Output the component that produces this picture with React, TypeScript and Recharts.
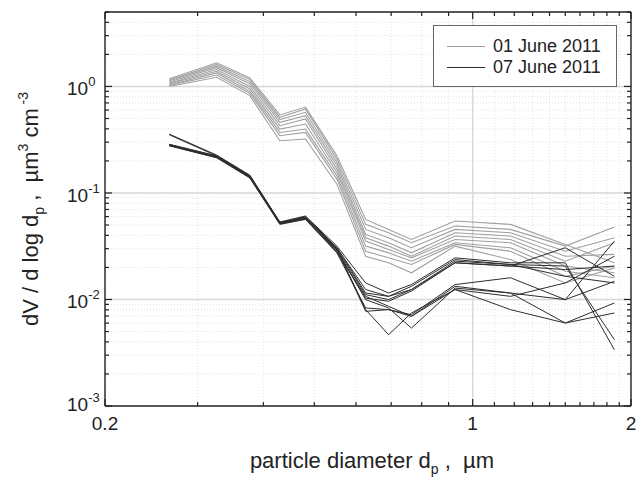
import React from "react";
import {
  LineChart,
  Line,
  XAxis,
  YAxis,
  CartesianGrid,
  ReferenceLine,
  Legend,
  Label,
} from "recharts";

// particle diameter channels, µm
const diameters = [0.265, 0.326, 0.377, 0.43, 0.481, 0.552, 0.626, 0.692, 0.765, 0.926, 1.18, 1.5, 1.86];

// 01 June 2011 size distributions (dV/dlogdp, µm3 cm-3)
const jun01a = [1.18, 1.67, 1.2, 0.54, 0.64, 0.223, 0.0565, 0.0455, 0.0366, 0.0545, 0.0507, 0.0329, 0.0221];
const jun01b = [1.15, 1.61, 1.16, 0.513, 0.614, 0.208, 0.0507, 0.0423, 0.0341, 0.0489, 0.0455, 0.0317, 0.0479];
const jun01c = [1.13, 1.55, 1.11, 0.488, 0.572, 0.193, 0.0455, 0.038, 0.0306, 0.0455, 0.0423, 0.0284, 0.038];
const jun01d = [1.1, 1.5, 1.06, 0.46, 0.532, 0.18, 0.0408, 0.0341, 0.0274, 0.0423, 0.0394, 0.0255, 0.0265];
const jun01e = [1.07, 1.44, 1.0, 0.428, 0.495, 0.167, 0.038, 0.0317, 0.0255, 0.0394, 0.0366, 0.0229, 0.0341];
const jun01f = [1.06, 1.39, 0.948, 0.398, 0.444, 0.156, 0.0353, 0.0295, 0.0246, 0.0366, 0.0341, 0.0206, 0.0178];
const jun01g = [1.03, 1.34, 0.9, 0.37, 0.398, 0.145, 0.0317, 0.0274, 0.0229, 0.0341, 0.0306, 0.0184, 0.016];
const jun01h = [1.02, 1.28, 0.863, 0.345, 0.37, 0.135, 0.0284, 0.0246, 0.0213, 0.0329, 0.0284, 0.0165, 0.0206];
const jun01i = [1.0, 1.22, 0.82, 0.309, 0.321, 0.121, 0.0255, 0.0221, 0.0178, 0.0317, 0.0237, 0.0143, 0.0198];

// 07 June 2011 size distributions
const jun07a = [0.357, 0.227, 0.147, 0.0534, 0.0608, 0.0317, 0.0143, 0.0115, 0.0138, 0.0246, 0.0221, 0.0221, 0.00337];
const jun07b = [0.352, 0.223, 0.145, 0.0526, 0.0599, 0.0306, 0.0124, 0.0107, 0.0133, 0.0237, 0.0213, 0.0206, 0.00419];
const jun07c = [0.283, 0.22, 0.143, 0.0519, 0.0586, 0.0295, 0.0111, 0.00997, 0.0124, 0.0229, 0.0213, 0.0165, 0.0143];
const jun07d = [0.281, 0.217, 0.14, 0.0516, 0.0573, 0.0284, 0.0103, 0.00962, 0.012, 0.0221, 0.0206, 0.0191, 0.0206];
const jun07e = [0.277, 0.214, 0.138, 0.0507, 0.0565, 0.0274, 0.00832, 0.00803, 0.0072, 0.0138, 0.016, 0.00997, 0.0148];
const jun07f = [0.283, 0.219, 0.142, 0.0526, 0.0582, 0.0295, 0.00774, 0.00803, 0.00695, 0.0133, 0.0115, 0.00601, 0.00747];
const jun07g = [0.281, 0.22, 0.144, 0.0523, 0.0586, 0.0299, 0.00803, 0.00467, 0.00747, 0.0124, 0.00803, 0.00601, 0.00928];
const jun07h = [0.286, 0.222, 0.145, 0.053, 0.059, 0.0291, 0.00997, 0.00832, 0.00539, 0.0128, 0.0115, 0.00997, 0.0353];
const jun07i = [0.279, 0.215, 0.1415, 0.0513, 0.0569, 0.0278, 0.0107, 0.00863, 0.00695, 0.0124, 0.0107, 0.0143, 0.0255];
const jun07j = [0.286, 0.223, 0.145, 0.0526, 0.0586, 0.0306, 0.0115, 0.0107, 0.0124, 0.0221, 0.0206, 0.0306, 0.0165];

const xTicks = [0.2, 0.3, 0.4, 0.5, 0.6, 0.7, 0.8, 0.9, 1, 1.1, 1.2, 1.3, 1.4, 1.5, 1.6, 1.7, 1.8, 1.9, 2];
const xLabels = [0.2, 1, 2];
const yTicks = [
  0.001, 0.002, 0.003, 0.004, 0.005, 0.006, 0.007, 0.008, 0.009,
  0.01, 0.02, 0.03, 0.04, 0.05, 0.06, 0.07, 0.08, 0.09,
  0.1, 0.2, 0.3, 0.4, 0.5, 0.6, 0.7, 0.8, 0.9,
  1, 2, 3, 4, 5,
];
const yLabels = [0.001, 0.01, 0.1, 1];

const june01 = [jun01a, jun01b, jun01c, jun01d, jun01e, jun01f, jun01g, jun01h, jun01i];
const june07 = [jun07a, jun07b, jun07c, jun07d, jun07e, jun07f, jun07g, jun07h, jun07i, jun07j];

const data = diameters.map((d, i) => {
  const row: Record<string, number> = { d };
  june01.forEach((s, k) => (row[`a${k}`] = s[i]));
  june07.forEach((s, k) => (row[`b${k}`] = s[i]));
  return row;
});

const FONT = "'Liberation Sans', Arial, sans-serif";
const INK = "#222";
const GRAY_LINE = "#a0a0a0";
const DARK_LINE = "#2e2e2e";

const BottomTick = (props: any) => {
  const { x, y, payload } = props;
  const v = payload.value;
  const major = xLabels.includes(v);
  return (
    <g>
      <line x1={x} x2={x} y1={y} y2={y - (major ? 7 : 4)} stroke={INK} strokeWidth={1.2} />
      {major && (
        <text x={x} y={y + 24} textAnchor="middle" fontSize={19} fontFamily={FONT} fill={INK}>
          {v}
        </text>
      )}
    </g>
  );
};

const TopTick = (props: any) => {
  const { x, y, payload } = props;
  const major = xLabels.includes(payload.value);
  return <line x1={x} x2={x} y1={y} y2={y + (major ? 7 : 4)} stroke={INK} strokeWidth={1.2} />;
};

const LeftTick = (props: any) => {
  const { x, y, payload } = props;
  const v = payload.value;
  const major = yLabels.includes(v);
  const lift = v === 0.001 ? 4 : 0;
  return (
    <g>
      <line x1={x} x2={x + (major ? 7 : 4)} y1={y} y2={y} stroke={INK} strokeWidth={1.2} />
      {major && (
        <text x={x - 38} y={y + 9 - lift} textAnchor="start" fontSize={19} fontFamily={FONT} fill={INK}>
          10
          <tspan dy={-9} fontSize={13}>
            {Math.round(Math.log10(v))}
          </tspan>
        </text>
      )}
    </g>
  );
};

const RightTick = (props: any) => {
  const { x, y, payload } = props;
  const major = yLabels.includes(payload.value);
  return <line x1={x} x2={x - (major ? 7 : 4)} y1={y} y2={y} stroke={INK} strokeWidth={1.2} />;
};

const XTitle = (props: any) => {
  const vb = props.viewBox || { x: 105, y: 406, width: 526, height: 30 };
  return (
    <text x={vb.x + vb.width / 2 + 4} y={vb.y + 62} textAnchor="middle" fontSize={22} fontFamily={FONT} fill={INK}>
      particle diameter d
      <tspan dy={6} fontSize={14}>p</tspan>
      <tspan dy={-6} style={{ whiteSpace: "pre" }}> ,  µm</tspan>
    </text>
  );
};

const YTitle = (props: any) => {
  const vb = props.viewBox || { x: 45, y: 12, width: 60, height: 394 };
  const cx = 38;
  const cy = vb.y + vb.height / 2;
  return (
    <text
      x={cx}
      y={cy}
      transform={`rotate(-90, ${cx}, ${cy})`}
      textAnchor="middle"
      fontSize={22}
      fontFamily={FONT}
      fill={INK}
      style={{ whiteSpace: "pre" }}
    >
      dV / d log d
      <tspan dy={6} fontSize={14}>p</tspan>
      <tspan dy={-6}> ,  µm</tspan>
      <tspan dy={-10} fontSize={14}>3</tspan>
      <tspan dy={10}> cm</tspan>
      <tspan dy={-10} fontSize={14}> -3</tspan>
    </text>
  );
};

const LegendBox = () => (
  <div
    style={{
      position: "relative",
      width: 184,
      height: 62,
      boxSizing: "border-box",
      border: "1px solid #666",
      background: "#fff",
      fontFamily: FONT,
      fontSize: 18,
      color: INK,
    }}
  >
    {[
      { name: "01 June 2011", color: GRAY_LINE, top: 10 },
      { name: "07 June 2011", color: DARK_LINE, top: 31 },
    ].map((item) => (
      <div key={item.name} style={{ position: "absolute", left: 0, top: item.top, height: 21, width: 184 }}>
        <div
          style={{
            position: "absolute",
            left: 13,
            top: 10,
            width: 38,
            borderTop: `1px solid ${item.color}`,
          }}
        />
        <span style={{ position: "absolute", left: 59, top: 0, lineHeight: "21px", whiteSpace: "nowrap" }}>
          {item.name}
        </span>
      </div>
    ))}
  </div>
);

const App: React.FC = () => {
  return (
    <div style={{ position: "absolute", left: 0, top: 0, background: "#fff" }}>
      <LineChart width={638} height={477} data={data} margin={{ top: 11, right: 6, bottom: 41, left: 45 }}>
        <CartesianGrid xAxisId="top" yAxisId="right" stroke="#e2e2e2" strokeDasharray="1 2" />
        <XAxis
          xAxisId="bottom"
          dataKey="d"
          type="number"
          scale="log"
          domain={[0.2, 2]}
          allowDataOverflow
          ticks={xTicks}
          interval={0}
          tickSize={0}
          tickMargin={0}
          tickLine={false}
          tick={<BottomTick />}
          axisLine={{ stroke: INK, strokeWidth: 1.4 }}
          height={30}
        >
          <Label content={<XTitle />} />
        </XAxis>
        <XAxis
          xAxisId="top"
          orientation="top"
          dataKey="d"
          type="number"
          scale="log"
          domain={[0.2, 2]}
          allowDataOverflow
          ticks={xTicks}
          interval={0}
          tickSize={0}
          tickMargin={0}
          tickLine={false}
          tick={<TopTick />}
          axisLine={{ stroke: INK, strokeWidth: 1.4 }}
          height={1}
        />
        <YAxis
          yAxisId="left"
          type="number"
          scale="log"
          domain={[0.001, 5]}
          allowDataOverflow
          ticks={yTicks}
          interval={0}
          tickSize={0}
          tickMargin={0}
          tickLine={false}
          tick={<LeftTick />}
          axisLine={{ stroke: INK, strokeWidth: 1.4 }}
          width={60}
        >
          <Label content={<YTitle />} />
        </YAxis>
        <YAxis
          yAxisId="right"
          orientation="right"
          type="number"
          scale="log"
          domain={[0.001, 5]}
          allowDataOverflow
          ticks={yTicks}
          interval={0}
          tickSize={0}
          tickMargin={0}
          tickLine={false}
          tick={<RightTick />}
          axisLine={{ stroke: INK, strokeWidth: 1.4 }}
          width={1}
        />
        {[0.01, 0.1, 1].map((v) => (
          <ReferenceLine key={`h${v}`} xAxisId="bottom" yAxisId="left" y={v} stroke="#d8d8d8" strokeWidth={1.4} />
        ))}
        <ReferenceLine xAxisId="bottom" yAxisId="left" x={1} stroke="#d8d8d8" strokeWidth={1.4} />
        {june01.map((_, k) => (
          <Line
            key={`a${k}`}
            xAxisId="bottom"
            yAxisId="left"
            dataKey={`a${k}`}
            stroke={GRAY_LINE}
            strokeWidth={1.1}
            dot={false}
            legendType="none"
            isAnimationActive={false}
          />
        ))}
        {june07.map((_, k) => (
          <Line
            key={`b${k}`}
            xAxisId="bottom"
            yAxisId="left"
            dataKey={`b${k}`}
            stroke={DARK_LINE}
            strokeWidth={1}
            dot={false}
            legendType="none"
            isAnimationActive={false}
          />
        ))}
        <Legend
          layout="vertical"
          align="center"
          verticalAlign="middle"
          content={<LegendBox />}
          wrapperStyle={{ left: 433, top: 25, width: 184, height: 62 }}
        />
      </LineChart>
    </div>
  );
};

export default App;
